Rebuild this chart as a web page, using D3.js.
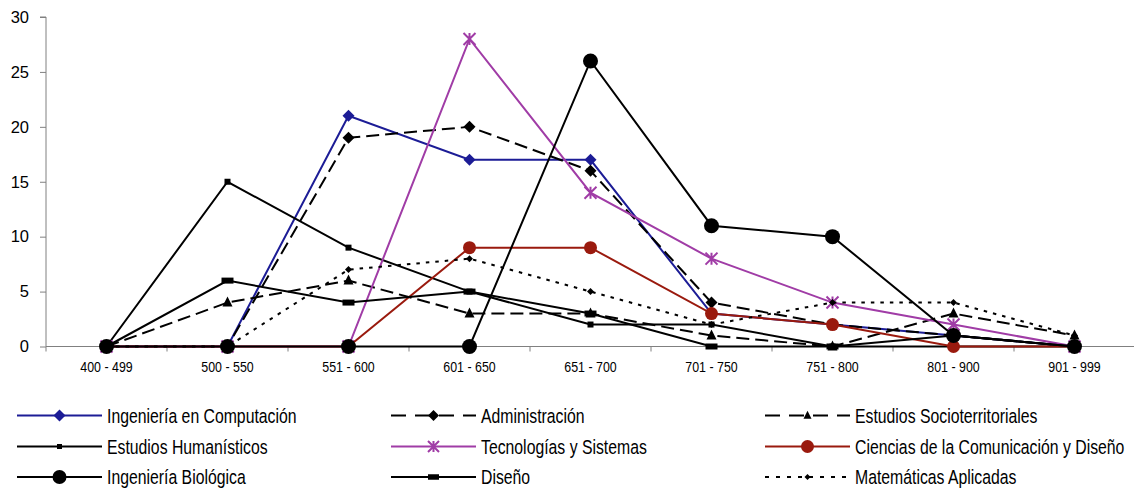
<!DOCTYPE html>
<html><head><meta charset="utf-8">
<script src="https://cdn.jsdelivr.net/npm/d3@7"></script>
<style>
html,body{margin:0;padding:0;background:#fff;}
svg{display:block;}
.narrow{font-family:"Liberation Sans",Arial,sans-serif;}
</style></head>
<body>
<svg id="chart" width="1134" height="488"></svg>
<script>
const categories = ["400 - 499","500 - 550","551 - 600","601 - 650","651 - 700","701 - 750","751 - 800","801 - 900","901 - 999"];
const yTicks = [0,5,10,15,20,25,30];

const seriesNames = ["Ingeniería en Computación","Administración","Estudios Socioterritoriales",
  "Estudios Humanísticos","Tecnologías y Sistemas","Ciencias de la Comunicación y Diseño",
  "Ingeniería Biológica","Diseño","Matemáticas Aplicadas"];

const ingComputacion   = [0,0,21,17,17,3,2,1,0];
const administracion   = [0,0,19,20,16,4,2,1,0];
const estSocioterr     = [0,4,6,3,3,1,0,3,1];
const estHumanisticos  = [0,15,9,5,2,2,0,0,0];
const tecSistemas      = [0,0,0,28,14,8,4,2,0];
const cienComunicacion = [0,0,0,9,9,3,2,0,0];
const ingBiologica     = [0,0,0,0,26,11,10,1,0];
const diseno           = [0,6,4,5,3,0,0,1,0];
const matAplicadas     = [0,0,7,8,5,2,4,4,1];

const seriesValues = [ingComputacion,administracion,estSocioterr,estHumanisticos,tecSistemas,cienComunicacion,ingBiologica,diseno,matAplicadas];

// styles (kept separate from data)
const styles = [
  {color:"#1c1c96", dash:null, marker:"diamond", size:12, lsize:12},
  {color:"#000", dash:"13,6", ldash:"15,9", marker:"diamond", size:12, lsize:11},
  {color:"#000", dash:"13,6", ldash:"15,9", marker:"triangle", size:10, lsize:8},
  {color:"#000", dash:null, marker:"square", size:6, lsize:5},
  {color:"#a03ca6", dash:null, marker:"asterisk", size:12, lsize:11},
  {color:"#9a1a0e", dash:null, marker:"circle", size:13, lsize:13},
  {color:"#000", dash:null, marker:"circle", size:15, lsize:14},
  {color:"#000", dash:null, marker:"rect", size:12, lsize:11},
  {color:"#000", dash:"3.5,6", ldash:"4,7", marker:"smalldiamond", size:7, lsize:6}
];

const svg = d3.select("#chart");
const x0 = 46, xEnd = 46 + 121*9, yTop = 17, yBase = 346.5;

const x = d3.scaleBand().domain(categories).range([x0, xEnd]);
const y = d3.scaleLinear().domain([0,30]).range([yBase, yTop]);

// Y axis
const yAxis = d3.axisLeft(y).tickValues(yTicks).tickSize(6).tickPadding(11);
const gy = svg.append("g").attr("transform",`translate(${x0},0)`).call(yAxis);
gy.select(".domain").attr("stroke","#808080").attr("d",`M-6,${y(30)}H0V${yBase}`);
gy.selectAll(".tick line").attr("stroke","#808080");
gy.selectAll(".tick text").attr("fill","#000").style("font-family","Liberation Sans, Arial, sans-serif").style("font-size","16.5px");

// X axis
const gx = svg.append("g").attr("transform",`translate(0,${yBase})`);
gx.append("line").attr("x1",x0).attr("x2",1134).attr("y1",0).attr("y2",0).attr("stroke","#808080");
const bounds = categories.map((c,i)=>x(c)).concat([xEnd]);
gx.selectAll("line.tk").data(bounds).enter().append("line").attr("class","tk")
  .attr("x1",d=>d).attr("x2",d=>d).attr("y1",0).attr("y2",5).attr("stroke","#808080");
gx.selectAll("text").data(categories).enter().append("text").attr("class","narrow")
  .attr("transform",d=>`translate(${x(d)+x.bandwidth()/2},25) scale(0.8,1)`).attr("text-anchor","middle")
  .style("font-size","15.5px").text(d=>d);

function markerPath(m, s){
  switch(m){
    case "diamond": return `M0,${-s/2}L${s/2},0L0,${s/2}L${-s/2},0Z`;
    case "smalldiamond": return `M0,${-s/2}L${s/2},0L0,${s/2}L${-s/2},0Z`;
    case "triangle": return `M0,${-s*0.6}L${s/2},${s*0.4}L${-s/2},${s*0.4}Z`;
    case "square": return `M${-s/2},${-s/2}h${s}v${s}h${-s}Z`;
    case "rect": return `M${-s/2},${-s/4}h${s}v${s/2}h${-s}Z`;
    case "circle": return d3.symbol().type(d3.symbolCircle).size(Math.PI*(s/2)*(s/2))();
    case "asterisk": {const h=s/2; return `M${-h},${-h}L${h},${h}M${-h},${h}L${h},${-h}M0,${-h}L0,${h}`;}
  }
}

function drawMarker(g, st, cx, cy, s){
  const p = g.append("path").attr("d", markerPath(st.marker, s)).attr("transform",`translate(${cx},${cy})`);
  if(st.marker==="asterisk") p.attr("fill","none").attr("stroke",st.color).attr("stroke-width",2);
  else p.attr("fill",st.color).attr("stroke","none");
}

const line = d3.line().x((d,i)=>x(categories[i])+x.bandwidth()/2).y(d=>y(d));
const plot = svg.append("g");
seriesValues.forEach((vals, si)=>{
  const st = styles[si];
  const g = plot.append("g");
  g.append("path").datum(vals).attr("d",line).attr("fill","none").attr("stroke",st.color)
    .attr("stroke-width",2).attr("stroke-dasharray",st.dash);
  vals.forEach((v,i)=>drawMarker(g, st, x(categories[i])+x.bandwidth()/2, y(v), st.size));
});

// Legend
const legCols = [17, 391, 765], legRows = [415.5, 446.5, 477];
const leg = svg.append("g");
seriesNames.forEach((name, si)=>{
  const st = styles[si];
  const lx = legCols[si%3], ly = legRows[Math.floor(si/3)];
  const g = leg.append("g");
  g.append("line").attr("x1",lx).attr("x2",lx+85).attr("y1",ly).attr("y2",ly)
    .attr("stroke",st.color).attr("stroke-width",2).attr("stroke-dasharray",st.ldash||null);
  drawMarker(g, st, lx+42.5, ly, st.lsize);
  g.append("text").attr("class","narrow").attr("transform",`translate(${lx+90},${ly}) scale(0.81,1)`)
    .attr("dy","0.36em").style("font-size","19.5px").text(name);
});
</script>
</body></html>
